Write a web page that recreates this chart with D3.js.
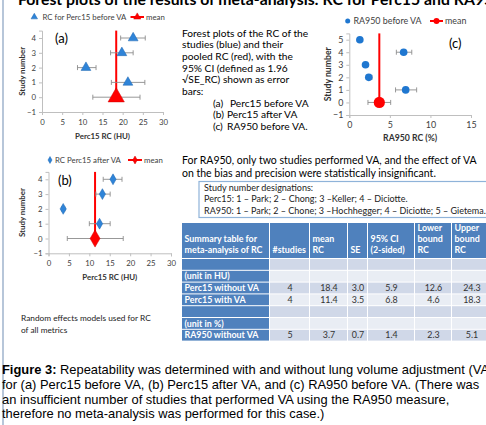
<!DOCTYPE html>
<html><head><meta charset="utf-8">
<script src="https://cdn.jsdelivr.net/npm/d3@7"></script>
<style>
body{margin:0;background:#fff;}
svg{display:block;}
</style></head>
<body>
<script>
// ---------- DATA ----------
const studiesA = [1, 2, 3, 4];
const rcA = [21.3, 10.9, 19.8, 22.6];
const loA = [17.2, 8.8, 17.0, 19.5];
const hiA = [25.5, 13.4, 22.6, 25.6];
const meanA = {rc: 18.4, lo: 12.6, hi: 24.3};

const studiesB = [1, 2, 3, 4];
const rcB = [12.5, 3.6, 13.2, 15.8];
const loB = [10.0, 3.2, 11.6, 13.4];
const hiB = [15.1, 4.0, 15.1, 18.0];
const meanB = {rc: 11.4, lo: 4.6, hi: 18.3};

const studiesC = [1, 2, 3, 4, 5];
const rcC = [6.95, 2.4, 2.0, 6.7, 1.3];
const loC = [5.7, 2.1, 1.8, 5.8, 1.2];
const hiC = [8.3, 2.8, 2.2, 7.7, 1.4];
const meanC = {rc: 3.7, lo: 2.3, hi: 5.1};

const xTicksHU = [0, 5, 10, 15, 20, 25, 30];
const xTicksPct = [0, 5, 10, 15];
const yTicksAB = [-1, 0, 1, 2, 3, 4];
const yTicksC = [-1, 0, 1, 2, 3, 4, 5];

const tableHeaders = [["Summary table for", "meta-analysis of RC"], ["#studies"], ["mean", "RC"], ["SE"], ["95% CI", "(2-sided)"], ["Lower", "bound", "RC"], ["Upper", "bound", "RC"]];
const rowLabels = ["", "(unit in HU)", "Perc15 without VA", "Perc15 with VA", "", "(unit in %)", "RA950 without VA"];
const nStudies = ["", "", "4", "4", "", "", "5"];
const meanRC = ["", "", "18.4", "11.4", "", "", "3.7"];
const seRC = ["", "", "3.0", "3.5", "", "", "0.7"];
const ci95 = ["", "", "5.9", "6.8", "", "", "1.4"];
const lowerRC = ["", "", "12.6", "4.6", "", "", "2.3"];
const upperRC = ["", "", "24.3", "18.3", "", "", "5.1"];

// ---------- DRAW ----------
const W = 486, H = 425;
const svg = d3.select("body").append("svg").attr("width", W).attr("height", H);
const CAL = "Lato, 'Open Sans', sans-serif";
const BLUE = "#2f84d8", RED = "#ff0000", AX = "#bfbfbf", TXT = "#404040";

// left border
svg.append("line").attr("x1", 3).attr("x2", 3).attr("y1", 0).attr("y2", H)
  .attr("stroke", "#9fb3cc").attr("stroke-width", 1.5);

// title (cut off at top, as in the reference)
svg.append("text").attr("x", 18).attr("y", 5).attr("font-family", CAL).attr("font-weight", "bold")
  .attr("font-size", 15.8).attr("fill", "#000")
  .text("Forest plots of the results of meta-analysis: RC for Perc15 and RA950");

function forest(cfg) {
  const fs = cfg.fs;
  const x = d3.scaleLinear().domain(cfg.xDomain).range(cfg.xRange);
  const y = d3.scaleLinear().domain(cfg.yDomain).range(cfg.yRange);
  const g = svg.append("g");
  const ax = g.append("g").attr("transform", `translate(0,${y(cfg.yDomain[0])})`)
    .call(d3.axisBottom(x).tickValues(cfg.xTicks).tickFormat(d3.format("d")).tickSize(3).tickPadding(4));
  const ay = g.append("g").attr("transform", `translate(${x(cfg.xDomain[0])},0)`)
    .call(d3.axisLeft(y).tickValues(cfg.yTicks).tickFormat(d3.format("d")).tickSize(3).tickPadding(3));
  [ax, ay].forEach(a => {
    a.select(".domain").attr("stroke", AX);
    a.selectAll(".tick line").attr("stroke", AX);
    a.selectAll("text").attr("font-family", CAL).attr("font-size", fs.tick).attr("fill", TXT);
  });
  g.append("text").attr("x", (cfg.xRange[0] + cfg.xRange[1]) / 2).attr("y", y(cfg.yDomain[0]) + cfg.xTitleDy)
    .attr("text-anchor", "middle").attr("font-family", CAL).attr("font-weight", "bold")
    .attr("font-size", fs.title).attr("fill", "#333").text(cfg.xTitle);
  g.append("text").attr("transform", `translate(${cfg.yTitleX},${(cfg.yRange[0] + cfg.yRange[1]) / 2}) rotate(-90)`)
    .attr("text-anchor", "middle").attr("font-family", CAL).attr("font-weight", "bold")
    .attr("font-size", fs.title).attr("fill", "#333").attr("dy", "0.35em").text("Study number");
  // mean line
  g.append("line").attr("x1", x(cfg.mean.rc)).attr("x2", x(cfg.mean.rc))
    .attr("y1", y(0)).attr("y2", y(cfg.yDomain[1])).attr("stroke", RED).attr("stroke-width", 2);
  // error bars
  const rows = cfg.studies.map((s, i) => ({s, v: cfg.rc[i], lo: cfg.lo[i], hi: cfg.hi[i]}));
  rows.push({s: 0, v: cfg.mean.rc, lo: cfg.mean.lo, hi: cfg.mean.hi, mean: true});
  const eb = g.append("g").attr("stroke", "#8c8c8c").attr("stroke-width", 0.9);
  rows.forEach(r => {
    eb.append("line").attr("x1", x(r.lo)).attr("x2", x(r.hi)).attr("y1", y(r.s)).attr("y2", y(r.s));
    [r.lo, r.hi].forEach(v => eb.append("line").attr("x1", x(v)).attr("x2", x(v))
      .attr("y1", y(r.s) - 2.5).attr("y2", y(r.s) + 2.5));
  });
  rows.forEach(r => cfg.marker(g, x(r.v), y(r.s), r.mean));
  g.append("text").attr("x", cfg.label[0]).attr("y", cfg.label[1]).attr("font-family", CAL)
    .attr("font-size", 13).attr("fill", "#000").text(cfg.labelText);
  // legend
  const L = cfg.legend;
  cfg.marker(g, L.mx, L.y, false, true);
  g.append("text").attr("x", L.tx).attr("y", L.y).attr("dy", "0.35em").attr("font-family", CAL)
    .attr("font-size", fs.legend).attr("fill", TXT).text(cfg.legendText);
  g.append("line").attr("x1", L.lx0).attr("x2", L.lx1).attr("y1", L.y).attr("y2", L.y)
    .attr("stroke", RED).attr("stroke-width", 2);
  cfg.marker(g, (L.lx0 + L.lx1) / 2, L.y, true, true);
  g.append("text").attr("x", L.lx1 + 2).attr("y", L.y).attr("dy", "0.35em").attr("font-family", CAL)
    .attr("font-size", fs.legend).attr("fill", TXT).text("mean");
}

function symMarker(type, sizeS, sizeM, sizeLS, sizeLM) {
  return (g, cx, cy, mean, legend) => {
    const size = legend ? (mean ? sizeLM : sizeLS) : (mean ? sizeM : sizeS);
    g.append("path").attr("d", d3.symbol().type(type).size(size)())
      .attr("transform", `translate(${cx},${cy})`)
      .attr("fill", mean ? RED : BLUE).attr("stroke", mean ? "#d00000" : "#1f66b0").attr("stroke-width", 0.5);
  };
}
function circMarker(g, cx, cy, mean, legend) {
  const r = legend ? (mean ? 3 : 2.5) : (mean ? 5.6 : 3.8);
  g.append("circle").attr("cx", cx).attr("cy", cy).attr("r", r)
    .attr("fill", mean ? RED : "#1f77d0");
}

const fsAB = {tick: 7.8, title: 7.9, legend: 7.8};
const fsC = {tick: 8.9, title: 8.7, legend: 8.9};

forest({
  xDomain: [0, 30], xRange: [42, 163], yDomain: [-1, 4.5], yRange: [112, 30.6], fs: fsAB, xTitleDy: 27,
  xTicks: xTicksHU, yTicks: yTicksAB, xTitle: "Perc15 RC (HU)", yTitleX: 22,
  studies: studiesA, rc: rcA, lo: loA, hi: hiA, mean: meanA,
  marker: symMarker(d3.symbolTriangle, 42, 115, 18, 22),
  label: [55, 43], labelText: "(a)",
  legend: {y: 17, mx: 34.3, tx: 42.5, lx0: 130.5, lx1: 144}, legendText: "RC for Perc15 before VA"
});
forest({
  xDomain: [0, 30], xRange: [48.5, 171], yDomain: [-1, 4.5], yRange: [253.3, 171.9], fs: fsAB, xTitleDy: 27,
  xTicks: xTicksHU, yTicks: yTicksAB, xTitle: "Perc15 RC (HU)", yTitleX: 22,
  studies: studiesB, rc: rcB, lo: loB, hi: hiB, mean: meanB,
  marker: symMarker(d3.symbolDiamond, 34, 85, 14, 18),
  label: [58, 185], labelText: "(b)",
  legend: {y: 160, mx: 50, tx: 55, lx0: 128, lx1: 142}, legendText: "RC Perc15 after VA"
});
forest({
  xDomain: [0, 15], xRange: [349.3, 471], yDomain: [-1, 5.5], yRange: [115, 33.4], fs: fsC, xTitleDy: 26,
  xTicks: xTicksPct, yTicks: yTicksC, xTitle: "RA950 RC (%)", yTitleX: 328,
  studies: studiesC, rc: rcC, lo: loC, hi: hiC, mean: meanC,
  marker: circMarker,
  label: [449, 48], labelText: "(c)",
  legend: {y: 21, mx: 347.7, tx: 353.5, lx0: 430, lx1: 443}, legendText: "RA950 before VA"
});

// paragraph text
const PF = 10.2;
const para = ["Forest plots of the RC of the", "studies (blue) and their", "pooled RC (red), with the",
  "95% CI (defined as 1.96", "\u221ASE_RC) shown as error", "bars:"];
para.forEach((t, i) => svg.append("text").attr("x", 182).attr("y", 36.5 + i * 11.7)
  .attr("font-family", CAL).attr("font-size", PF).attr("fill", "#000").text(t));
const items = [["(a)", "Perc15 before VA", 230], ["(b)", "Perc15 after VA", 227], ["(c)", "RA950 before VA.", 227]];
items.forEach((t, i) => {
  const yy = 36.5 + (6 + i) * 11.7;
  svg.append("text").attr("x", 213).attr("y", yy).attr("font-family", CAL).attr("font-size", PF).text(t[0]);
  svg.append("text").attr("x", t[2]).attr("y", yy).attr("font-family", CAL).attr("font-size", PF).text(t[1]);
});
["For RA950, only two studies performed VA, and the effect of VA",
 "on the bias and precision were statistically insignificant."].forEach((t, i) =>
  svg.append("text").attr("x", 182).attr("y", 164 + i * 12.6).attr("font-family", CAL)
    .attr("font-size", 10.5).attr("fill", "#000").text(t));

// study number box
svg.append("rect").attr("x", 199).attr("y", 181.5).attr("width", 300).attr("height", 36)
  .attr("fill", "#fff").attr("stroke", "#8fb3d9").attr("stroke-width", 1.2);
["Study number designations:", "Perc15: 1 \u2013 Park; 2 \u2013 Chong; 3 \u2013Keller; 4 \u2013 Diciotte.",
 "RA950: 1 \u2013 Park; 2 \u2013 Chone; 3 \u2013Hochhegger; 4 \u2013 Diciotte; 5 \u2013 Gietema."].forEach((t, i) =>
  svg.append("text").attr("x", 204).attr("y", 191 + i * 11.3).attr("font-family", CAL)
    .attr("font-size", 9).attr("fill", "#222").text(t));

// summary table
const colX = [182, 270, 310, 348, 368, 415, 452, 492];
const headTop = 223, headBot = 259, rowH = 11.8;
const tb = svg.append("g");
const cols = [rowLabels, nStudies, meanRC, seRC, ci95, lowerRC, upperRC];
for (let c = 0; c < 7; c++) {
  tb.append("rect").attr("x", colX[c]).attr("y", headTop).attr("width", colX[c + 1] - colX[c] - 1)
    .attr("height", headBot - headTop - 1).attr("fill", "#4f81bd");
  const lines = tableHeaders[c];
  lines.forEach((t, k) => tb.append("text").attr("x", colX[c] + 2.5)
    .attr("y", headBot - 6 - (lines.length - 1 - k) * 10.8).attr("font-family", CAL)
    .attr("font-weight", "bold").attr("font-size", 8.9).attr("fill", "#fff").text(t));
  for (let r = 0; r < rowLabels.length; r++) {
    const yy = headBot + r * rowH;
    tb.append("rect").attr("x", colX[c]).attr("y", yy).attr("width", colX[c + 1] - colX[c] - 1)
      .attr("height", rowH - 1).attr("fill", c === 0 ? "#4f81bd" : (r % 2 === 0 ? "#d0d8e8" : "#e9edf4"));
    const v = cols[c][r];
    if (v) {
      tb.append("text").attr("x", c === 0 ? colX[c] + 2.5 : (colX[c] + colX[c + 1]) / 2)
        .attr("y", yy + rowH / 2 - 0.5).attr("dy", "0.35em")
        .attr("text-anchor", c === 0 ? "start" : "middle").attr("font-family", CAL)
        .attr("font-weight", c === 0 ? "bold" : "normal").attr("font-size", 8.9)
        .attr("fill", c === 0 ? "#fff" : "#333").text(v);
    }
  }
}

// left note
["Random effects models used for RC", "of all metrics"].forEach((t, i) =>
  svg.append("text").attr("x", 21).attr("y", 321 + i * 11.5).attr("font-family", CAL)
    .attr("font-size", 8.3).attr("fill", "#222").text(t));

// caption
const cap = [["Figure 3:", " Repeatability was determined with and without lung volume adjustment (VA)"],
  ["", "for (a) Perc15 before VA, (b) Perc15 after VA, and (c) RA950 before VA. (There was"],
  ["", "an insufficient number of studies that performed VA using the RA950 measure,"],
  ["", "therefore no meta-analysis was performed for this case.)"]];
cap.forEach((l, i) => {
  const t = svg.append("text").attr("x", 2).attr("y", 374 + i * 14.8).attr("font-family", "'Liberation Sans', Arial, sans-serif")
    .attr("font-size", 12.9).attr("fill", "#000");
  if (l[0]) t.append("tspan").attr("font-weight", "bold").text(l[0]);
  t.append("tspan").text(l[1]);
});
</script>
</body></html>
